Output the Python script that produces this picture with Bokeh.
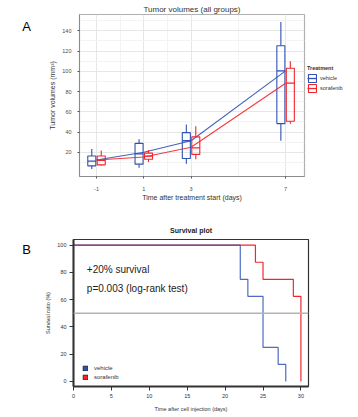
import numpy as np
from bokeh.plotting import figure
from bokeh.models import (ColumnDataSource, Range1d, FixedTicker, Label, Legend,
                          LegendItem, Span)
from bokeh.layouts import column, row
from bokeh.embed import file_html
from bokeh.resources import INLINE

FONT = "Liberation Sans"
BLUE = "#2F52B4"
RED = "#F2262C"

# ---------------- Panel A data: tumor volumes (box plot statistics) ----------------
times = [-1, 1, 3, 7]
time_labels = ["-1", "1", "3", "7"]
veh_lower = [3.5, 4.8, 8.7, 31.5]
veh_q1 = [6.7, 8.4, 14.0, 48.4]
veh_median = [11.3, 18.6, 31.5, 100.4]
veh_q3 = [16.4, 28.9, 39.5, 125.2]
veh_upper = [23.4, 33.0, 47.5, 148.6]
veh_trend = [12.5, 20.2, 31.5, 100.4]

sor_lower = [7.0, 10.6, 13.2, 48.2]
sor_q1 = [7.7, 13.2, 18.0, 50.7]
sor_median = [12.2, 16.4, 24.4, 88.3]
sor_q3 = [16.4, 19.3, 35.3, 103.0]
sor_upper = [21.8, 22.4, 45.9, 110.0]
sor_trend = [12.5, 15.4, 25.0, 88.3]

# ---------------- Panel B data: survival ----------------
veh_days = [0, 22, 23, 25, 27, 28]
veh_surv = [100, 75, 62.5, 25, 12.5, 0]
sor_days = [0, 24, 25, 29, 30]
sor_surv = [100, 87.5, 75, 62.5, 0]
half_level = 50

DODGE = 0.2
BOXW = 0.34
LW = 40      # strip holding the panel letters
LEGW = 50    # strip holding the legend of panel A
HA, HB = 203, 214


def bare(width, height):
    f = figure(width=width, height=height, x_range=Range1d(0, 1), y_range=Range1d(0, 1),
               x_axis_type=None, y_axis_type=None, output_backend="svg",
               toolbar_location=None, min_border=0)
    f.outline_line_color = None
    f.grid.visible = False
    f.background_fill_color = "white"
    f.border_fill_color = "white"
    return f


# ================= Panel letters =================
letters = figure(width=LW, height=HA + HB, x_range=Range1d(0, LW), y_range=Range1d(HA + HB, 0),
                 x_axis_type=None, y_axis_type=None, output_backend="svg",
                 toolbar_location=None, min_border=0)
letters.outline_line_color = None
letters.grid.visible = False
letters.add_layout(Label(x=26, y=26, text="A", text_font=FONT, text_font_size="13px",
                         text_color="black", text_align="center", text_baseline="middle"))
letters.add_layout(Label(x=26, y=249, text="B", text_font=FONT, text_font_size="13px",
                         text_color="black", text_align="center", text_baseline="middle"))

# ================= Panel A =================
pA = figure(width=306 - LW, height=HA, x_range=Range1d(-1.72, 7.8), y_range=Range1d(-3.8, 156.1),
            output_backend="svg", toolbar_location=None,
            min_border_left=79 - LW, min_border_right=2, min_border_top=14, min_border_bottom=23)
pA.background_fill_color = "white"
pA.border_fill_color = "white"
pA.outline_line_color = "#b0b0b0"
pA.outline_line_width = 1.2
pA.title.text = "Tumor volumes (all groups)"
pA.title.text_font = FONT
pA.title.text_font_size = "8px"
pA.title.text_font_style = "normal"
pA.title.text_color = "#333333"
pA.title.align = "center"
pA.title.standoff = 2

pA.xaxis.ticker = FixedTicker(ticks=times, minor_ticks=[0, 2, 5])
pA.xaxis.major_label_overrides = {t: l for t, l in zip(times, time_labels)}
pA.yaxis.ticker = FixedTicker(ticks=[20, 40, 60, 80, 100, 120, 140],
                              minor_ticks=[10, 30, 50, 70, 90, 110, 130, 150])
pA.xgrid.grid_line_color = "#e6e6e6"
pA.ygrid.grid_line_color = "#e6e6e6"
pA.xgrid.minor_grid_line_color = "#f3f3f3"
pA.ygrid.minor_grid_line_color = "#f3f3f3"
for ax in (pA.xaxis, pA.yaxis):
    ax.axis_line_color = "#8c8c8c"
    ax.major_tick_line_color = "#555555"
    ax.major_tick_out = 2
    ax.major_tick_in = 0
    ax.minor_tick_line_color = None
    ax.major_label_text_font = FONT
    ax.major_label_text_font_size = "5.5px"
    ax.major_label_text_color = "#4d4d4d"
    ax.axis_label_text_font = FONT
    ax.axis_label_text_font_size = "7px"
    ax.axis_label_text_font_style = "normal"
    ax.axis_label_text_color = "#333333"
pA.xaxis.axis_label = "Time after treatment start (days)"
pA.yaxis.axis_label = "Tumor volumes (mm³)"
pA.xaxis.major_label_standoff = 6
pA.xaxis.axis_label_standoff = 0
pA.yaxis.major_label_standoff = 4
pA.yaxis.axis_label_standoff = 3

legA_fig = bare(LEGW, HA)
legend_items = []
for name, col, off, lo, q1, med, q3, up, trend in [
        ("vehicle", BLUE, -DODGE, veh_lower, veh_q1, veh_median, veh_q3, veh_upper, veh_trend),
        ("sorafenib", RED, DODGE, sor_lower, sor_q1, sor_median, sor_q3, sor_upper, sor_trend)]:
    xs = np.array(times, dtype=float) + off
    src = ColumnDataSource(dict(x=xs, x0=xs - BOXW / 2, x1=xs + BOXW / 2,
                                lo=lo, q1=q1, med=med, q3=q3, up=up))
    pA.line(times, trend, line_color=col, line_width=1.1, line_alpha=0.9)
    pA.segment(x0="x", y0="q3", x1="x", y1="up", source=src, line_color=col, line_width=1.1)
    pA.segment(x0="x", y0="q1", x1="x", y1="lo", source=src, line_color=col, line_width=1.1)
    pA.vbar(x="x", width=BOXW, top="q3", bottom="q1", source=src,
            fill_color=None, line_color=col, line_width=1.1)
    pA.segment(x0="x0", y0="med", x1="x1", y1="med", source=src, line_color=col, line_width=1.3)
    # invisible proxies in the legend strip (same styling) for the legend keys
    kbox = legA_fig.vbar(x="x", width=BOXW, top="q3", bottom="q1", source=src,
                         fill_color=None, line_color=col, line_width=1.1, visible=False)
    kmed = legA_fig.segment(x0="x0", y0="med", x1="x1", y1="med", source=src,
                            line_color=col, line_width=1.3, visible=False)
    legend_items.append(LegendItem(label=name, renderers=[kbox, kmed]))

legA = Legend(items=legend_items, location=(1, 83), title="Treatment",
              title_text_font=FONT, title_text_font_size="5.5px", title_text_font_style="bold",
              title_text_color="#333333", title_standoff=2,
              label_text_font=FONT, label_text_font_size="5.5px", label_text_color="#333333",
              glyph_width=10, glyph_height=10, label_standoff=3, label_height=10,
              spacing=0, padding=0, margin=0, border_line_color=None, background_fill_alpha=0,
              inactive_fill_alpha=0)
legA_fig.add_layout(legA)

# ================= Panel B =================
WB = 356 - LW
pB = figure(width=WB, height=HB, x_range=Range1d(0, 31), y_range=Range1d(-3.7, 104.2),
            output_backend="svg", toolbar_location=None,
            min_border_left=73 - LW, min_border_right=356 - 308, min_border_top=36,
            min_border_bottom=31)
pB.background_fill_color = "white"
pB.border_fill_color = "white"
pB.grid.visible = False
pB.outline_line_color = "#333333"
pB.outline_line_width = 1.2
pB.title.text = "Survival plot"
pB.title.text_font = FONT
pB.title.text_font_size = "7px"
pB.title.text_font_style = "bold"
pB.title.text_color = "#222222"
pB.title.align = "center"
pB.title.standoff = 12

pB.xaxis.ticker = FixedTicker(ticks=[0, 5, 10, 15, 20, 25, 30])
pB.yaxis.ticker = FixedTicker(ticks=[0, 20, 40, 60, 80, 100])
for ax in (pB.xaxis, pB.yaxis):
    ax.axis_line_color = "#333333"
    ax.axis_line_width = 2
    ax.major_tick_line_color = "#333333"
    ax.major_tick_out = 4
    ax.major_tick_in = 0
    ax.minor_tick_line_color = None
    ax.major_label_text_font = FONT
    ax.major_label_text_font_size = "5.5px"
    ax.major_label_text_color = "#333333"
    ax.axis_label_text_font = FONT
    ax.axis_label_text_font_size = "5.5px"
    ax.axis_label_text_font_style = "normal"
    ax.axis_label_text_color = "#333333"
pB.xaxis.axis_label = "Time after cell injection (days)"
pB.yaxis.axis_label = "Survival ratio (%)"
pB.xaxis.major_label_standoff = 3
pB.xaxis.axis_label_standoff = 5
pB.yaxis.major_label_standoff = 3
pB.yaxis.axis_label_standoff = 3

pB.add_layout(Span(location=half_level, dimension="width", line_color="#b3b3b3", line_width=1.5))
pB.step(sor_days, sor_surv, mode="after", line_color=RED, line_width=1.2)
pB.step(veh_days, veh_surv, mode="after", line_color=BLUE, line_width=1.2, line_alpha=0.85)

# invisible proxies that only provide the square legend keys
vkey = pB.vbar(x=veh_days, top=veh_surv, width=0.5, fill_color=BLUE, line_color="black",
               line_width=0.6, visible=False)
skey = pB.vbar(x=sor_days, top=sor_surv, width=0.5, fill_color=RED, line_color="black",
               line_width=0.6, visible=False)
legB = Legend(items=[LegendItem(label="vehicle", renderers=[vkey]),
                     LegendItem(label="sorafenib", renderers=[skey])],
              location=(9, 6), label_text_font=FONT, label_text_font_size="6px",
              label_text_color="#333333", glyph_width=6, glyph_height=6, label_height=6,
              label_standoff=6, spacing=3, padding=0, margin=0,
              border_line_color=None, background_fill_alpha=0,
              inactive_fill_alpha=0)
pB.add_layout(legB)

pB.add_layout(Label(x=1.76, y=82.4, text="+20% survival", text_font=FONT,
                    text_font_size="10px", text_color="#222222", text_align="left",
                    text_baseline="middle"))
pB.add_layout(Label(x=1.76, y=68.4, text="p=0.003 (log-rank test)", text_font=FONT,
                    text_font_size="10px", text_color="#222222", text_align="left",
                    text_baseline="middle"))

layout = row(letters, column(row(pA, legA_fig), row(pB)))
open("out.html", "w").write(file_html(layout, INLINE))
